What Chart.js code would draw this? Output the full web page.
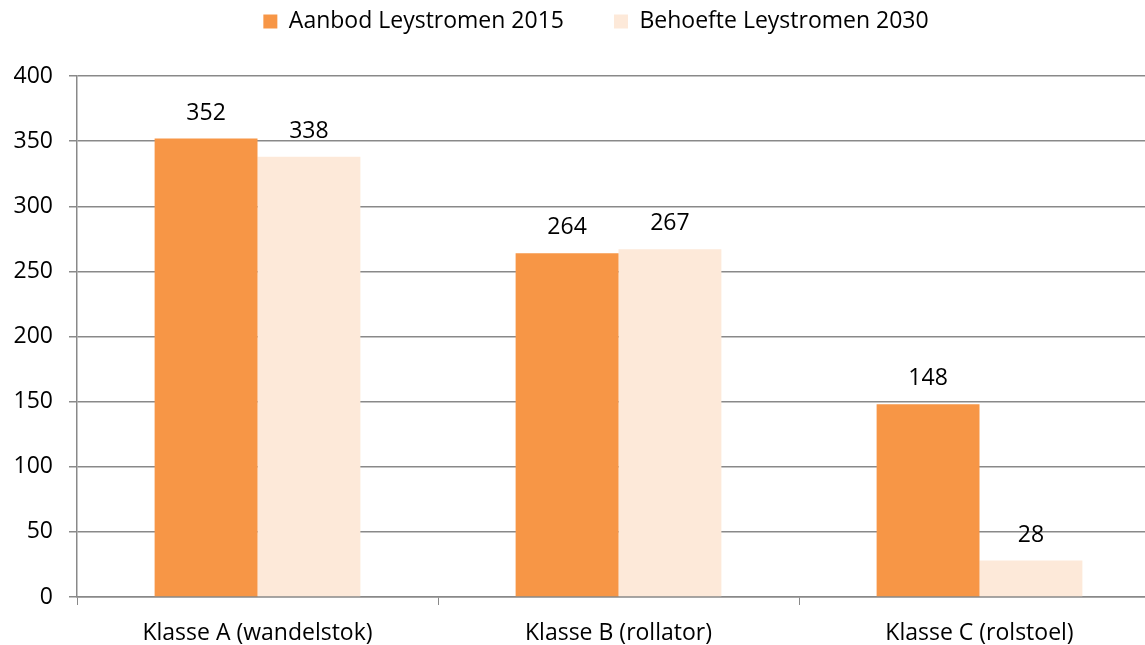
<!DOCTYPE html>
<html>
<head>
<meta charset="utf-8">
<script src="https://cdn.jsdelivr.net/npm/chart.js@4"></script>
<style>
  html, body { margin: 0; padding: 0; background: #fff; overflow: hidden; }
  #wrap { width: 1165px; height: 645px; }
</style>
</head>
<body>
<div id="wrap"><canvas id="chart"></canvas></div>
<script>
'use strict';

var categories = ['Klasse A (wandelstok)', 'Klasse B (rollator)', 'Klasse C (rolstoel)'];
var seriesNames = ['Aanbod Leystromen 2015', 'Behoefte Leystromen 2030'];
var aanbod2015 = [352, 264, 148];
var behoefte2030 = [338, 267, 28];
var yTicks = [0, 50, 100, 150, 200, 250, 300, 350, 400];

var FONT = '"Open Sans", "Liberation Sans", sans-serif';
var FONT_SIZE = 23;
var GRID = '#898989';

// value labels above each bar
var valueLabels = {
  id: 'valueLabels',
  afterDatasetsDraw: function (chart) {
    var ctx = chart.ctx;
    ctx.save();
    ctx.font = FONT_SIZE + 'px ' + FONT;
    ctx.fillStyle = '#000';
    ctx.textAlign = 'center';
    ctx.textBaseline = 'alphabetic';
    chart.data.datasets.forEach(function (ds, i) {
      chart.getDatasetMeta(i).data.forEach(function (bar, idx) {
        ctx.fillText(String(ds.data[idx]), bar.x, bar.y - 19);
      });
    });
    ctx.restore();
  }
};

// legend sits higher and a bit right of where chart.js puts it
var legendNudge = {
  id: 'legendNudge',
  afterLayout: function (chart) {
    var lg = chart.legend;
    if (!lg) return;
    var dy = -33, dx = 16;
    lg.top += dy; lg.bottom += dy;
    lg.left += dx; lg.right += dx;
  }
};

var ctx = document.getElementById('chart').getContext('2d');
new Chart(ctx, {
  type: 'bar',
  data: {
    labels: categories,
    datasets: [
      { label: seriesNames[0], data: aanbod2015, backgroundColor: '#F79646' },
      { label: seriesNames[1], data: behoefte2030, backgroundColor: '#FDE9D9' }
    ]
  },
  options: {
    responsive: true,
    maintainAspectRatio: false,
    animation: false,
    categoryPercentage: 0.57,
    barPercentage: 1.0,
    layout: { padding: { left: 0, right: 5, top: -7, bottom: 0 } },
    plugins: {
      tooltip: { enabled: false },
      legend: {
        position: 'top',
        labels: {
          boxWidth: 14,
          boxHeight: 14,
          padding: 50,
          color: '#000',
          font: { family: FONT, size: FONT_SIZE }
        }
      }
    },
    scales: {
      x: {
        grid: {
          display: true,
          offset: true,
          drawOnChartArea: false,
          color: GRID,
          tickLength: 8
        },
        border: { color: GRID, width: 1.5 },
        ticks: { color: '#000', padding: 15, font: { family: FONT, size: FONT_SIZE } },
        afterFit: function (scale) { scale.height = 48; }
      },
      y: {
        min: 0,
        max: 400,
        afterBuildTicks: function (scale) {
          scale.ticks = yTicks.map(function (v) { return { value: v }; });
        },
        grid: { color: GRID, lineWidth: 1.5, tickLength: 8 },
        border: { color: GRID, width: 1.5 },
        ticks: { color: '#000', padding: 16, font: { family: FONT, size: FONT_SIZE } },
        afterFit: function (scale) { scale.width = 77; }
      }
    }
  },
  plugins: [valueLabels, legendNudge]
});
</script>
</body>
</html>
